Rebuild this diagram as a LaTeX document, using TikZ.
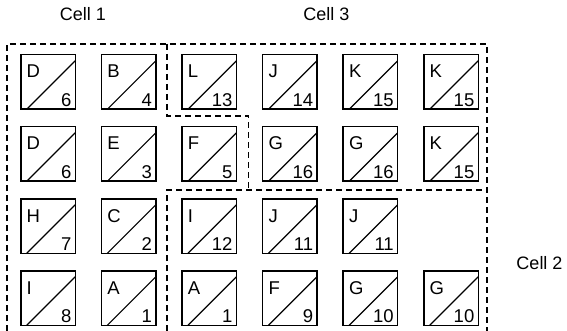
\documentclass[tikz,border=0pt]{standalone}
\usepackage{fontspec}
\setmainfont{Liberation Sans}
\begin{document}
\begin{tikzpicture}[x=1pt,y=-1pt,
  cellbox/.style={draw, line width=1.5pt, minimum size=54.5pt, inner sep=0pt, anchor=north west,
    path picture={\draw[line width=1.2pt] ([xshift=6pt]path picture bounding box.south west) -- ([yshift=-6pt]path picture bounding box.north east);}},
  toplabel/.style={inner sep=0pt, anchor=base west, font=\fontsize{18.5}{20}\selectfont},
  numlabel/.style={inner sep=0pt, anchor=base east, font=\fontsize{18.5}{20}\selectfont},
  celltitle/.style={inner sep=0pt, anchor=base, font=\fontsize{18}{20}\selectfont},
  region/.style={line width=1.3pt, dash pattern=on 6pt off 4pt}]
\useasboundingbox (0,0) rectangle (567,331);
% boxes
\foreach \r/\c/\L/\N in {0/0/D/6,0/1/B/4,0/2/L/13,0/3/J/14,0/4/K/15,0/5/K/15,
  1/0/D/6,1/1/E/3,1/2/F/5,1/3/G/16,1/4/G/16,1/5/K/15,
  2/0/H/7,2/1/C/2,2/2/I/12,2/3/J/11,2/4/J/11,
  3/0/I/8,3/1/A/1,3/2/A/1,3/3/F/9,3/4/G/10,3/5/G/10}{
  \node[cellbox] (b\r\c) at ({20+80.6*\c},{54+72*\r}) {};
  \node[toplabel] (t\r\c) at ([xshift=6.5pt,yshift=-24pt]b\r\c.north west) {\L};
  \node[numlabel] (n\r\c) at ([xshift=-4.5pt,yshift=3.5pt]b\r\c.south east) {\N};
}
% regions
\draw[region] (7,331) -- (7,44) -- (487,44) -- (487,331);
\draw[region] (167,44) -- (167,116) -- (248.5,116) -- (248.5,190);
\draw[region] (167,331) -- (167,190) -- (487,190);
% titles
\node[celltitle] (c1) at (83,20.7) {Cell 1};
\node[celltitle] (c3) at (326.5,20.7) {Cell 3};
\node[celltitle] (c2) at (539.5,269) {Cell 2};
\end{tikzpicture}
\end{document}
